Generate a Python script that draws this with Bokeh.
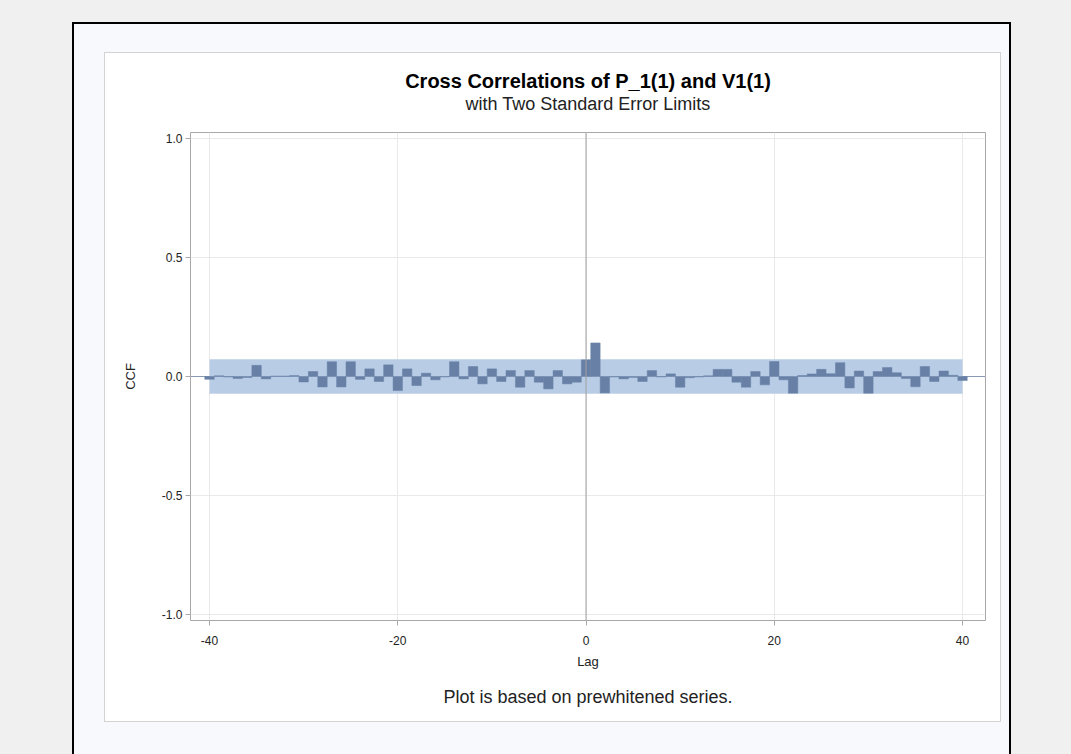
from bokeh.plotting import figure
from bokeh.models import (Range1d, FixedTicker, NumeralTickFormatter, Span,
                          Title, ColumnDataSource)
from bokeh.embed import file_html
from bokeh.resources import INLINE

# ---- data ----
lags = list(range(-40, 41))
ccf = [
    -0.012, 0.003, -0.002, -0.008, -0.004, 0.047, -0.010, 0.002, 0.002, 0.004,   # -40..-31
    -0.023, 0.021, -0.044, 0.062, -0.044, 0.062, -0.012, 0.032, -0.021, 0.049,   # -30..-21
    -0.059, 0.032, -0.038, 0.014, -0.014, -0.002, 0.062, -0.010, 0.042, -0.031,  # -20..-11
    0.032, -0.021, 0.025, -0.045, 0.025, -0.024, -0.052, 0.025, -0.031, -0.024,  # -10..-1
    0.070,                                                                        # 0
    0.141, -0.069, -0.002, -0.010, -0.004, -0.021, 0.025, -0.002, 0.011, -0.045, # 1..10
    -0.005, -0.002, 0.003, 0.030, 0.030, -0.024, -0.045, 0.021, -0.035, 0.063,   # 11..20
    -0.014, -0.070, 0.004, 0.011, 0.030, 0.012, 0.058, -0.048, 0.023, -0.070,    # 21..30
    0.021, 0.038, 0.016, -0.008, -0.043, 0.042, -0.021, 0.023, 0.005, -0.017,    # 31..40
]
std_err_limit = 0.072
band_lags = [-40, 40]
y_ticks = [-1.0, -0.5, 0.0, 0.5, 1.0]
x_ticks = [-40, -20, 0, 20, 40]

FONT = "Liberation Sans"

# the figure is the white panel; the surrounding page frame is drawn with CSS shadows
p = figure(width=895, height=668, output_backend="svg", toolbar_location=None,
           x_range=Range1d(-42.02, 42.44), y_range=Range1d(-1.0252, 1.0252),
           min_border_left=85, min_border_right=15,
           min_border_top=79, min_border_bottom=101)
p.margin = (53, 0, 0, 105)
p.styles = {
    "box-shadow": ", ".join([
        "0 0 0 1px #d3d3d3",
        "-11px -9px 0 20px #f8f9fd",
        "-11px 19px 0 20px #f8f9fd",
        "-11px -9px 0 22px #000000",
        "-11px 19px 0 22px #000000",
        "0 0 0 3000px #f0f0f0",
    ])
}
p.border_fill_color = "white"
p.background_fill_color = "white"
p.outline_line_color = "#a8a8a8"

# grid
p.xgrid.ticker = FixedTicker(ticks=x_ticks)
p.ygrid.ticker = FixedTicker(ticks=y_ticks)
p.grid.grid_line_color = "#e9e9e9"

# band and bars
p.varea(x=band_lags, y1=[-std_err_limit] * 2, y2=[std_err_limit] * 2,
        fill_color="#b8cce6", fill_alpha=1.0)
src = ColumnDataSource(dict(lag=lags, ccf=ccf))
p.vbar(x="lag", top="ccf", bottom=0, width=1.0, source=src,
       fill_color="#6880a6", line_color="#6880a6", line_width=0.5)
p.add_layout(Span(location=0, dimension="width", line_color="#8b9ab4", line_width=1, level="underlay"))
p.add_layout(Span(location=0, dimension="height", line_color="#a0a0a0", line_width=1))

# axes
for ax in (p.xaxis[0], p.yaxis[0]):
    ax.axis_line_color = None
    ax.major_tick_line_color = "#a8a8a8"
    ax.major_tick_out = 5
    ax.major_tick_in = 0
    ax.minor_tick_line_color = None
    ax.major_label_text_font = FONT
    ax.major_label_text_font_size = "12px"
    ax.major_label_text_color = "#222222"
    ax.axis_label_text_font = FONT
    ax.axis_label_text_font_size = "13px"
    ax.axis_label_text_font_style = "normal"
    ax.axis_label_text_color = "#222222"

p.xaxis.ticker = FixedTicker(ticks=x_ticks)
p.yaxis.ticker = FixedTicker(ticks=y_ticks)
p.xaxis.formatter = NumeralTickFormatter(format="0")
p.yaxis.formatter = NumeralTickFormatter(format="0.0")
p.xaxis.axis_label = "Lag"
p.yaxis.axis_label = "CCF"
p.xaxis.major_label_standoff = 10
p.xaxis.axis_label_standoff = 6
p.yaxis.major_label_standoff = 3
p.yaxis.axis_label_standoff = 21

# titles (first added sits nearest the plot frame)
spacer = Title(text=" ", align="center", text_font=FONT, text_font_size="13px", standoff=2)
sub = Title(text="with Two Standard Error Limits", align="center",
            text_font=FONT, text_font_size="18px", text_font_style="normal",
            text_color="#222222", standoff=0)
main = Title(text="Cross Correlations of P_1(1) and V1(1)", align="center",
             text_font=FONT, text_font_size="20px", text_font_style="bold",
             text_color="black", standoff=0)
p.add_layout(spacer, "above")
p.add_layout(sub, "above")
p.add_layout(main, "above")
foot = Title(text="Plot is based on prewhitened series.", align="center",
             text_font=FONT, text_font_size="18px", text_font_style="normal",
             text_color="#222222", standoff=26)
p.add_layout(foot, "below")

open("out.html", "w").write(file_html(p, INLINE))
